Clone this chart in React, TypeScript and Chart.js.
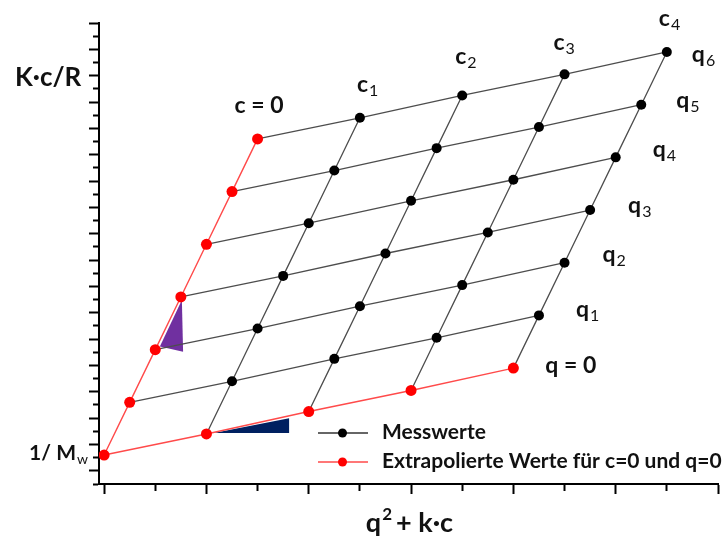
import { useEffect, useRef } from 'react';
import { Chart, registerables } from 'chart.js';

Chart.register(...registerables);

// ---- data ----
// x = q² + k·c : contribution of scattering vector (q²) and concentration (k·c)
const qSquared = [0, 0.25, 0.5, 0.75, 1.0, 1.25, 1.5]; // q = 0, q1 … q6
const kc = [0, 1, 2, 3, 4]; // c = 0, c1 … c4
// K·c/R for each concentration column, rows q = 0 … q6
const kcR_c0 = [2.2, 6.2, 10.2, 14.2, 18.2, 22.2, 26.2]; // extrapolated c = 0
const kcR_c1 = [3.8, 7.8, 11.8, 15.8, 19.8, 23.8, 27.8];
const kcR_c2 = [5.5, 9.5, 13.5, 17.5, 21.5, 25.5, 29.5];
const kcR_c3 = [7.1, 11.1, 15.1, 19.1, 23.1, 27.1, 31.1];
const kcR_c4 = [8.8, 12.8, 16.8, 20.8, 24.8, 28.8, 32.8];
const kcRColumns = [kcR_c0, kcR_c1, kcR_c2, kcR_c3, kcR_c4];

const cLabelMain = ['c = 0', 'c', 'c', 'c', 'c'];
const cLabelSub = ['', '1', '2', '3', '4'];
const qLabelMain = ['q = 0', 'q', 'q', 'q', 'q', 'q', 'q'];
const qLabelSub = ['', '1', '2', '3', '4', '5', '6'];

const xTickValues = [0, 0.5, 1, 1.5, 2, 2.5, 3, 3.5, 4, 4.5, 5, 5.5, 6];
const yTickValues = [0, 1, 2, 3, 4, 5, 6, 7, 8, 9, 10, 11, 12, 13, 14, 15, 16, 17, 18, 19, 20, 21, 22, 23, 24, 25, 26, 27, 28, 29, 30, 31, 32, 33, 34, 35];

const purpleTriangle = [
  { x: 0.76, y: 13.97 },
  { x: 0.545, y: 10.43 },
  { x: 0.772, y: 10.05 },
  { x: 0.76, y: 13.97 },
];
const navyTriangle = [
  { x: 1.072, y: 3.87 },
  { x: 1.808, y: 4.99 },
  { x: 1.808, y: 3.87 },
  { x: 1.072, y: 3.87 },
];

const legendLabels = ['Messwerte', 'Extrapolierte Werte für c=0 und q=0'];

// ---- styles ----
const FONT = 'Lato, "Open Sans", sans-serif';
const GRID_COLOR = '#4d4d4d';
const RED_LINE = '#ff4a4a';
const RED_POINT = '#ff0000';

function pt(i: number, j: number) {
  return { x: qSquared[i] + kc[j], y: kcRColumns[j][i] };
}

// label offsets (pixels) from their anchor points
const cLabelOffset = [
  [-23, -26],
  [-3, -26],
  [-7, -31],
  [-11, -24],
  [-8, -26],
];
const qLabelOffset = [
  [32, 5],
  [37, 2],
  [38, -1],
  [38, 3],
  [37, 0],
  [35, 3],
  [25, 10],
];

function drawSub(ctx: CanvasRenderingContext2D, main: string, sub: string, x: number, y: number, size: number) {
  ctx.font = `bold ${size}px ${FONT}`;
  ctx.fillText(main, x, y);
  if (sub) {
    const w = ctx.measureText(main).width;
    ctx.font = `${Math.round(size * 0.68)}px ${FONT}`;
    ctx.fillText(sub, x + w + 1, y + 4);
  }
}

const annotationPlugin = {
  id: 'zimmAnnotations',
  afterDraw(chart: any) {
    const ctx: CanvasRenderingContext2D = chart.ctx;
    const xs = chart.scales.x;
    const ys = chart.scales.y;
    const area = chart.chartArea;
    ctx.save();
    ctx.fillStyle = '#111';
    ctx.textAlign = 'left';
    ctx.textBaseline = 'alphabetic';

    // c labels above the q6 points
    for (let j = 0; j < kc.length; j++) {
      const p = pt(qSquared.length - 1, j);
      const px = xs.getPixelForValue(p.x) + cLabelOffset[j][0];
      const py = ys.getPixelForValue(p.y) + cLabelOffset[j][1];
      drawSub(ctx, cLabelMain[j], cLabelSub[j], px, py, 23);
    }
    // q labels right of c4 points
    for (let i = 0; i < qSquared.length; i++) {
      const p = pt(i, kc.length - 1);
      const px = xs.getPixelForValue(p.x) + qLabelOffset[i][0];
      const py = ys.getPixelForValue(p.y) + qLabelOffset[i][1];
      drawSub(ctx, qLabelMain[i], qLabelSub[i], px, py, 23);
    }
    // 1/Mw
    {
      const p = pt(0, 0);
      const px = xs.getPixelForValue(p.x) - 75;
      const py = ys.getPixelForValue(p.y) + 5;
      drawSub(ctx, '1/ M', 'w', px, py, 21);
    }
    // y title
    ctx.font = `bold 26px ${FONT}`;
    ctx.fillText('K·c/R', area.left - 84, area.top + 63);
    // x title
    {
      const cx = (area.left + area.right) / 2;
      const by = area.bottom + 48;
      ctx.font = `bold 27px ${FONT}`;
      const wq = ctx.measureText('q').width;
      const rest = '+ k·c';
      const wr = ctx.measureText(rest).width;
      ctx.font = `bold 17px ${FONT}`;
      const w2 = ctx.measureText('2').width;
      const total = wq + 1 + w2 + 4 + wr;
      const x0 = cx - total / 2 + 1;
      ctx.font = `bold 27px ${FONT}`;
      ctx.fillText('q', x0, by);
      ctx.font = `bold 17px ${FONT}`;
      ctx.fillText('2', x0 + wq + 1, by - 12);
      ctx.font = `bold 27px ${FONT}`;
      ctx.fillText(rest, x0 + wq + 1 + w2 + 4, by);
    }
    // legend
    const lx = area.left + 219;
    const ly = [area.bottom - 51, area.bottom - 22];
    const lColors = [['#333333', '#000000'], [RED_LINE, RED_POINT]];
    for (let k = 0; k < 2; k++) {
      ctx.strokeStyle = lColors[k][0];
      ctx.lineWidth = 1.5;
      ctx.beginPath();
      ctx.moveTo(lx, ly[k]);
      ctx.lineTo(lx + 50, ly[k]);
      ctx.stroke();
      ctx.fillStyle = lColors[k][1];
      ctx.beginPath();
      ctx.arc(lx + 24.5, ly[k], 4.5, 0, Math.PI * 2);
      ctx.fill();
      ctx.fillStyle = '#111';
      ctx.font = `bold 21px ${FONT}`;
      ctx.fillText(legendLabels[k], lx + 64, ly[k] + 6);
    }
    ctx.restore();
  },
};

function buildDatasets() {
  const ds: any[] = [];
  const measured: any[] = [];
  for (let j = 1; j < kc.length; j++) for (let i = 1; i < qSquared.length; i++) measured.push(pt(i, j));
  const extrap: any[] = [];
  for (let i = 0; i < qSquared.length; i++) extrap.push(pt(i, 0));
  for (let j = 1; j < kc.length; j++) extrap.push(pt(0, j));

  ds.push({
    label: 'Messwerte',
    data: measured,
    showLine: false,
    pointRadius: 5,
    pointBackgroundColor: '#000',
    pointBorderWidth: 0,
    order: 0,
  });
  ds.push({
    label: 'Extrapolierte Werte',
    data: extrap,
    showLine: false,
    pointRadius: 5.5,
    pointBackgroundColor: RED_POINT,
    pointBorderWidth: 0,
    order: 0,
  });
  // rows of constant q
  for (let i = 1; i < qSquared.length; i++) {
    ds.push({
      data: kc.map((_, j) => pt(i, j)),
      showLine: true,
      borderColor: GRID_COLOR,
      borderWidth: 1.3,
      pointRadius: 0,
      order: 2,
    });
  }
  // columns of constant c
  for (let j = 1; j < kc.length; j++) {
    ds.push({
      data: qSquared.map((_, i) => pt(i, j)),
      showLine: true,
      borderColor: GRID_COLOR,
      borderWidth: 1.3,
      pointRadius: 0,
      order: 2,
    });
  }
  // extrapolated c = 0 and q = 0 lines
  ds.push({
    data: qSquared.map((_, i) => pt(i, 0)),
    showLine: true,
    borderColor: RED_LINE,
    borderWidth: 1.4,
    pointRadius: 0,
    order: 1,
  });
  ds.push({
    data: kc.map((_, j) => pt(0, j)),
    showLine: true,
    borderColor: RED_LINE,
    borderWidth: 1.4,
    pointRadius: 0,
    order: 1,
  });
  // slope triangles
  ds.push({
    data: purpleTriangle,
    showLine: true,
    fill: 'shape',
    backgroundColor: '#7030a0',
    borderColor: '#7030a0',
    borderWidth: 0,
    pointRadius: 0,
    order: 3,
  });
  ds.push({
    data: navyTriangle,
    showLine: true,
    fill: 'shape',
    backgroundColor: '#002060',
    borderColor: '#002060',
    borderWidth: 0,
    pointRadius: 0,
    order: 3,
  });
  return ds;
}

export default function App() {
  const ref = useRef<HTMLCanvasElement | null>(null);
  useEffect(() => {
    if (!ref.current) return;
    const chart = new Chart(ref.current, {
      type: 'scatter',
      data: { datasets: buildDatasets() },
      options: {
        animation: false,
        responsive: true,
        maintainAspectRatio: false,
        layout: { padding: { left: 89, top: 23, right: 7, bottom: 44 } },
        plugins: { legend: { display: false }, tooltip: { enabled: false } },
        scales: {
          x: {
            type: 'linear',
            min: -0.05,
            max: 6.0,
            afterBuildTicks: (s: any) => {
              s.ticks = xTickValues.map((v) => ({ value: v }));
            },
            ticks: { display: false },
            border: { display: true, color: '#000', width: 2 },
            grid: {
              drawOnChartArea: false,
              drawTicks: true,
              tickLength: 10,
              tickWidth: 2,
              tickColor: '#000',
              tickBorderDash: (c: any) => (c.tick && c.tick.value % 1 !== 0 ? [6, 100] : []),
            },
          },
          y: {
            type: 'linear',
            min: 0,
            max: 35,
            afterBuildTicks: (s: any) => {
              s.ticks = yTickValues.map((v) => ({ value: v }));
            },
            ticks: { display: false },
            border: { display: true, color: '#000', width: 2 },
            grid: {
              drawOnChartArea: false,
              drawTicks: true,
              tickLength: 10,
              tickWidth: 2,
              tickColor: '#000',
              tickBorderDash: (c: any) => (c.tick && c.tick.value % 2 === 0 ? [0, 4, 5, 100] : []),
            },
          },
        },
      },
      plugins: [annotationPlugin],
    });
    return () => chart.destroy();
  }, []);
  return (
    <div style={{ position: 'fixed', left: 0, top: 0, width: 725, height: 538, background: '#fff' }}>
      <canvas ref={ref} />
    </div>
  );
}
